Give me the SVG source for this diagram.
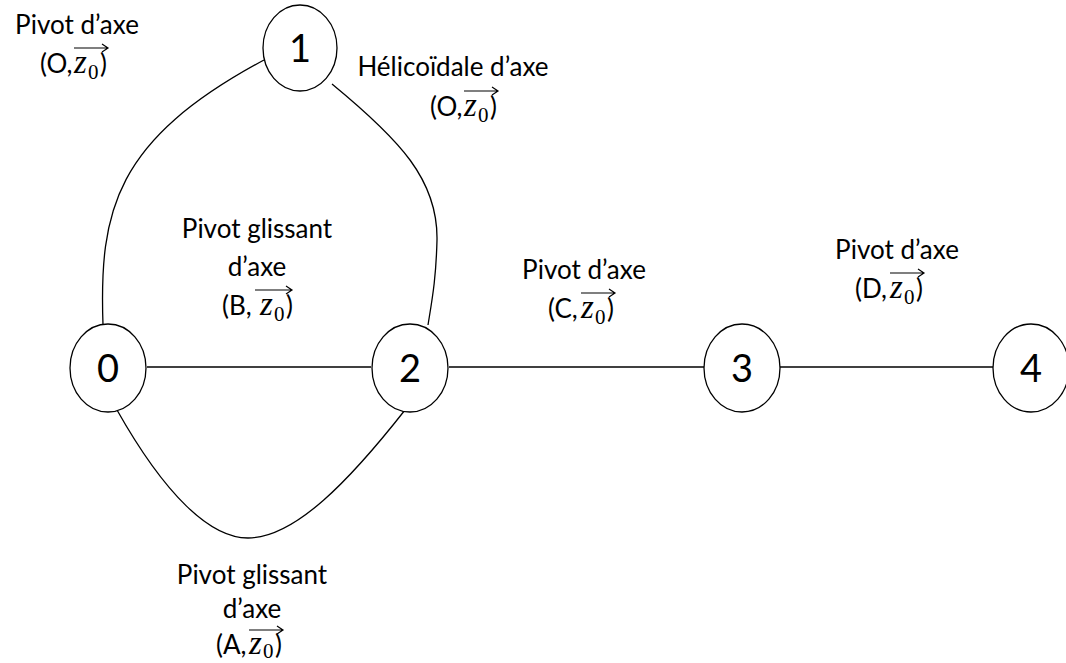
<svg xmlns="http://www.w3.org/2000/svg" width="1066" height="663" viewBox="0 0 1066 663">
  <defs>
    <style>
      .node { fill: #fff; stroke: #000; stroke-width: 1.3; }
      .num { font-family: Lato, "Liberation Sans", sans-serif; font-size: 38px; fill: #000; text-anchor: middle; }
      .lbl { font-family: Lato, "Liberation Sans", sans-serif; font-size: 26px; fill: #000; }
      .mid { text-anchor: middle; }
      .v { font-family: "Liberation Serif", serif; font-style: italic; font-size: 33px; }
      .s { font-family: "Liberation Serif", serif; font-size: 21px; }
      .link { fill: none; stroke: #000; stroke-width: 1.3; }
      .vec { fill: none; stroke: #000; stroke-width: 1.2; }
    </style>
  </defs>
  <rect width="1066" height="663" fill="#fff"/>

  <!-- connectors -->
  <g id="connectors">
    <path class="link" d="M147 367 H371"/>
    <path class="link" d="M449 367 H704"/>
    <path class="link" d="M780 367 H993"/>
    <path class="link" d="M103 325 C99 210 115 140 264 60"/>
    <path class="link" d="M332 84 C400 140 438 180 437 240 C436 280 432 300 428 325"/>
    <path class="link" d="M117 410 C165 495 210 538 248 538 C295 538 350 480 405 410"/>
  </g>

  <!-- joint labels -->
  <g id="labels">
    <text class="lbl mid" x="77" y="34">Pivot d’axe</text>
    <text class="lbl" x="40" y="73">(O,<tspan class="v" x="74">z</tspan><tspan class="s" x="88" dy="6">0</tspan><tspan x="100" dy="-6">)</tspan></text>
    <path class="vec" d="M74 48 H108 M102 44 L108 48 L102 52"/>

    <text class="lbl mid" x="453" y="76">Hélicoïdale d’axe</text>
    <text class="lbl" x="430" y="116">(O,<tspan class="v" x="464">z</tspan><tspan class="s" x="478" dy="6">0</tspan><tspan x="490" dy="-6">)</tspan></text>
    <path class="vec" d="M464 91 H498 M492 87 L498 91 L492 95"/>

    <text class="lbl mid" x="257" y="238">Pivot glissant</text>
    <text class="lbl mid" x="257" y="276">d’axe</text>
    <text class="lbl" x="222" y="315">(B,<tspan class="v" x="260">z</tspan><tspan class="s" x="274" dy="6">0</tspan><tspan x="286" dy="-6">)</tspan></text>
    <path class="vec" d="M255 290 H292 M286 286 L292 290 L286 294"/>

    <text class="lbl mid" x="584" y="279">Pivot d’axe</text>
    <text class="lbl" x="548" y="318">(C,<tspan class="v" x="581">z</tspan><tspan class="s" x="595" dy="6">0</tspan><tspan x="607" dy="-6">)</tspan></text>
    <path class="vec" d="M581 293 H615 M609 289 L615 293 L609 297"/>

    <text class="lbl mid" x="897" y="259">Pivot d’axe</text>
    <text class="lbl" x="855" y="298">(D,<tspan class="v" x="890">z</tspan><tspan class="s" x="904" dy="6">0</tspan><tspan x="916" dy="-6">)</tspan></text>
    <path class="vec" d="M890 273 H924 M918 269 L924 273 L918 277"/>

    <text class="lbl mid" x="252" y="584">Pivot glissant</text>
    <text class="lbl mid" x="252" y="618">d’axe</text>
    <text class="lbl" x="216" y="654">(A,<tspan class="v" x="249">z</tspan><tspan class="s" x="263" dy="4">0</tspan><tspan x="275" dy="-4">)</tspan></text>
    <path class="vec" d="M249 630 H283 M277 626 L283 630 L277 634"/>
  </g>

  <!-- parts -->
  <g id="node-0"><ellipse class="node" cx="108" cy="368" rx="38" ry="44"/><text class="num" x="108" y="382">0</text></g>
  <g id="node-1"><ellipse class="node" cx="300" cy="48" rx="37" ry="43"/><text class="num" x="300" y="62">1</text></g>
  <g id="node-2"><ellipse class="node" cx="410" cy="368" rx="38" ry="44"/><text class="num" x="410" y="382">2</text></g>
  <g id="node-3"><ellipse class="node" cx="742" cy="368" rx="38" ry="44"/><text class="num" x="742" y="382">3</text></g>
  <g id="node-4"><ellipse class="node" cx="1031" cy="368" rx="38" ry="44"/><text class="num" x="1031" y="382">4</text></g>
</svg>
